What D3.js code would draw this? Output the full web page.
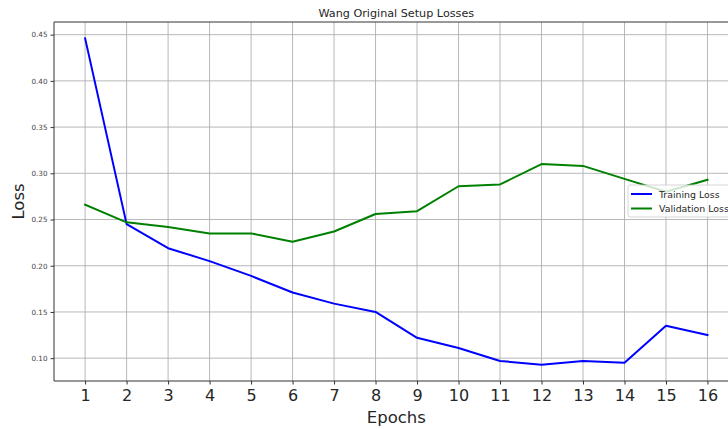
<!DOCTYPE html>
<html><head><meta charset="utf-8">
<script src="https://cdn.jsdelivr.net/npm/d3@7"></script>
<style>
html,body{margin:0;padding:0;background:#fff;}
svg{display:block;font-family:"DejaVu Sans",sans-serif;}
</style></head>
<body>
<svg id="chart" width="728" height="429"></svg>
<script>
const epochs = [1,2,3,4,5,6,7,8,9,10,11,12,13,14,15,16];
const trainingLoss = [0.446,0.245,0.219,0.205,0.189,0.171,0.159,0.150,0.122,0.111,0.097,0.093,0.097,0.095,0.135,0.125];
const validationLoss = [0.266,0.247,0.242,0.235,0.235,0.226,0.237,0.256,0.259,0.286,0.288,0.310,0.308,0.294,0.280,0.293];
const yTicks = [0.10,0.15,0.20,0.25,0.30,0.35,0.40,0.45];
const seriesNames = ["Training Loss","Validation Loss"];
const colors = ["#0000ff","#008000"];

const svg = d3.select("#chart");
const L = 54, R = 738.6, T = 22, B = 381;
const x = d3.scaleLinear().domain([0.25,16.75]).range([L,R]);
const y = d3.scaleLinear().domain([0.0753,0.4637]).range([B,T]);

// grid
const g = svg.append("g");
g.selectAll(".vg").data(epochs).enter().append("line")
  .attr("x1",d=>x(d)).attr("x2",d=>x(d)).attr("y1",T).attr("y2",B)
  .attr("stroke","#b0b0b0").attr("stroke-width",0.9);
g.selectAll(".hg").data(yTicks).enter().append("line")
  .attr("x1",L).attr("x2",728).attr("y1",d=>y(d)).attr("y2",d=>y(d))
  .attr("stroke","#b0b0b0").attr("stroke-width",0.9);

// axes
const xAxis = d3.axisBottom(x).tickValues(epochs).tickFormat(d3.format("d")).tickSize(3.5).tickPadding(5);
const yAxis = d3.axisLeft(y).tickValues(yTicks).tickFormat(d3.format(".2f")).tickSize(3.5).tickPadding(3);
const xa = svg.append("g").attr("transform",`translate(0,${B})`).call(xAxis);
xa.select(".domain").remove();
xa.selectAll("text").attr("font-size",16).attr("fill","#262626").attr("font-family","DejaVu Sans");
xa.selectAll("line").attr("stroke","#333");
const ya = svg.append("g").attr("transform",`translate(${L},0)`).call(yAxis);
ya.select(".domain").remove();
ya.selectAll("text").attr("font-size",7.2).attr("fill","#444").attr("font-family","DejaVu Sans");
ya.selectAll("line").attr("stroke","#333");

// spines
svg.append("line").attr("x1",L).attr("x2",L).attr("y1",T).attr("y2",B).attr("stroke","#333").attr("stroke-width",1);
svg.append("line").attr("x1",L).attr("x2",728).attr("y1",B).attr("y2",B).attr("stroke","#333").attr("stroke-width",1);
svg.append("line").attr("x1",L).attr("x2",728).attr("y1",T).attr("y2",T).attr("stroke","#333").attr("stroke-width",1);

// lines
const line = d3.line().x((d,i)=>x(epochs[i])).y(d=>y(d));
[trainingLoss, validationLoss].forEach((s,i)=>{
  svg.append("path").datum(s).attr("d",line).attr("fill","none")
    .attr("stroke",colors[i]).attr("stroke-width",2).attr("stroke-linejoin","round").attr("stroke-linecap","square");
});

// title & labels
svg.append("text").attr("x",(L+R)/2).attr("y",17).attr("text-anchor","middle")
  .attr("font-size",11.2).attr("fill","#262626").text("Wang Original Setup Losses");
svg.append("text").attr("x",(L+R)/2).attr("y",423).attr("text-anchor","middle")
  .attr("font-size",16.5).attr("fill","#262626").text("Epochs");
svg.append("text").attr("transform",`translate(24,${(T+B)/2}) rotate(-90)`).attr("text-anchor","middle")
  .attr("font-size",16.5).attr("fill","#262626").text("Loss");

// legend
const lg = svg.append("g").attr("transform","translate(628,185)");
lg.append("rect").attr("x",0).attr("y",0).attr("width",110).attr("height",32).attr("rx",2)
  .attr("fill","#fff").attr("fill-opacity",0.8).attr("stroke","#ccc").attr("stroke-width",0.8);
seriesNames.forEach((n,i)=>{
  const yy = 9 + i*14.5;
  lg.append("line").attr("x1",3).attr("x2",24).attr("y1",yy).attr("y2",yy).attr("stroke",colors[i]).attr("stroke-width",2);
  lg.append("text").attr("x",31).attr("y",yy+3.5).attr("font-size",9.4).attr("fill","#262626").text(n);
});
</script>
</body></html>
